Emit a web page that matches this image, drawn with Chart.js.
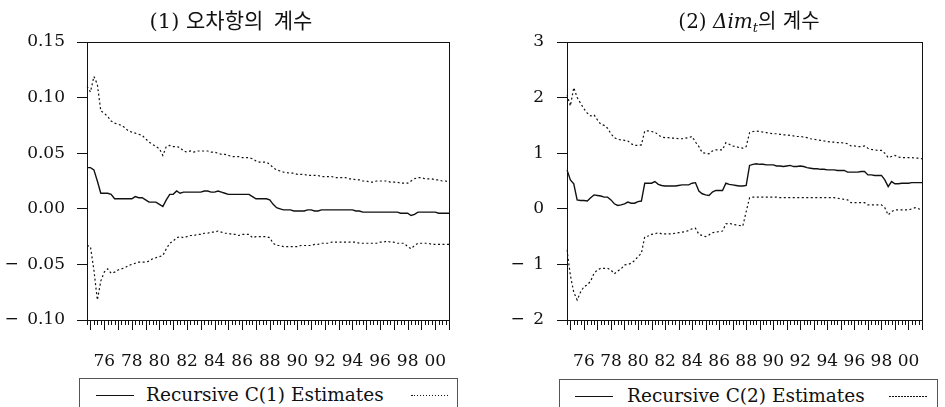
<!DOCTYPE html>
<html>
<head>
<meta charset="utf-8">
<script src="https://cdn.jsdelivr.net/npm/chart.js@4/dist/chart.umd.min.js"></script>
<style>
  html, body { margin: 0; padding: 0; background: #fff; }
  #wrap { position: relative; width: 945px; height: 407px; overflow: hidden; background: #fff;
          font-family: "DejaVu Serif", "Noto Sans CJK KR", serif; color: #111; }
  canvas { position: absolute; top: 0; }
  .title { position: absolute; top: 8px; font-size: 20px; line-height: 26px; text-align: center; white-space: nowrap; }
  .title i { font-style: italic; }
  .title sub { font-size: 13px; vertical-align: -4px; line-height: 0; }
  .legend { position: absolute; height: 60px; border: 1px solid #555; box-sizing: border-box; }
  .legend .solid { position: absolute; top: 16px; height: 0; border-top: 1.4px solid #111; }
  .legend .dots { position: absolute; top: 16px; height: 1px;
                  background: repeating-linear-gradient(to right, #111 0 1.5px, transparent 1.5px 3px); }
  .legend .txt { position: absolute; top: 6px; font-size: 18.5px; line-height: 20px; white-space: nowrap; }
</style>
</head>
<body>
<div id="wrap">
  <canvas id="c1" width="472" height="372" style="left:0"></canvas>
  <canvas id="c2" width="473" height="372" style="left:472px"></canvas>

  <div class="title" style="left:81px;width:300px;font-size:21px">(1) 오차항의&ensp;계수</div>
  <div class="title" style="left:600px;width:298px">(2) <i>Δim</i><sub><i>t</i></sub>의 계수</div>

  <div class="legend" style="left:79px;top:378px;width:379px">
    <div class="solid" style="left:16px;width:38px"></div>
    <div class="txt" style="left:66px">Recursive C(1) Estimates</div>
    <div class="dots" style="left:331px;width:37px"></div>
  </div>
  <div class="legend" style="left:559px;top:379px;width:379px">
    <div class="solid" style="left:15px;width:38px"></div>
    <div class="txt" style="left:67px">Recursive C(2) Estimates</div>
    <div class="dots" style="left:329px;width:39px"></div>
  </div>
</div>

<script>
// quarterly sample, first recursive estimate in 1974Q4
const startYear = 1974;
const startQuarter = 4;
const yearLabels = ['76', '78', '80', '82', '84', '86', '88', '90', '92', '94', '96', '98', '00'];

// (1) error-correction coefficient
const est1 = [
  0.037, 0.037, 0.035, 0.025, 0.014, 0.014, 0.014, 0.013, 0.009, 0.009,
  0.009, 0.009, 0.009, 0.009, 0.011, 0.010, 0.010, 0.008, 0.006, 0.006,
  0.006, 0.004, 0.002, 0.008, 0.013, 0.013, 0.016, 0.014, 0.015, 0.015,
  0.015, 0.015, 0.015, 0.015, 0.016, 0.016, 0.015, 0.015, 0.016, 0.015,
  0.014, 0.013, 0.013, 0.013, 0.013, 0.013, 0.013, 0.013, 0.011, 0.009,
  0.009, 0.009, 0.009, 0.008, 0.004, 0.001, 0.000, -0.001, -0.001, -0.001,
  -0.002, -0.002, -0.002, -0.002, -0.001, -0.001, -0.002, -0.002, -0.001, -0.001,
  -0.001, -0.001, -0.001, -0.001, -0.001, -0.001, -0.001, -0.001, -0.002, -0.002,
  -0.003, -0.003, -0.003, -0.003, -0.003, -0.003, -0.003, -0.003, -0.003, -0.003,
  -0.003, -0.004, -0.004, -0.004, -0.006, -0.005, -0.003, -0.003, -0.003, -0.003,
  -0.003, -0.003, -0.004, -0.004, -0.004, -0.004
];
const upper1 = [
  0.110, 0.105, 0.119, 0.112, 0.088, 0.086, 0.083, 0.079, 0.077, 0.076,
  0.075, 0.073, 0.070, 0.069, 0.068, 0.067, 0.066, 0.063, 0.060, 0.058,
  0.056, 0.054, 0.048, 0.056, 0.057, 0.056, 0.056, 0.055, 0.052, 0.051,
  0.052, 0.051, 0.052, 0.052, 0.052, 0.052, 0.051, 0.051, 0.050, 0.049,
  0.049, 0.048, 0.047, 0.047, 0.047, 0.046, 0.046, 0.046, 0.045, 0.043,
  0.042, 0.042, 0.042, 0.040, 0.037, 0.035, 0.034, 0.033, 0.0325, 0.032,
  0.032, 0.031, 0.031, 0.031, 0.030, 0.030, 0.030, 0.030, 0.029, 0.029,
  0.029, 0.029, 0.028, 0.028, 0.028, 0.028, 0.027, 0.027, 0.026, 0.026,
  0.025, 0.025, 0.024, 0.024, 0.025, 0.025, 0.025, 0.025, 0.024, 0.024,
  0.024, 0.023, 0.023, 0.023, 0.025, 0.027, 0.028, 0.028, 0.027, 0.027,
  0.027, 0.026, 0.026, 0.025, 0.025, 0.024
];
const lower1 = [
  -0.033, -0.034, -0.055, -0.082, -0.065, -0.057, -0.054, -0.058, -0.057, -0.055,
  -0.054, -0.053, -0.051, -0.050, -0.049, -0.048, -0.048, -0.048, -0.047, -0.045,
  -0.044, -0.043, -0.042, -0.036, -0.031, -0.029, -0.026, -0.025, -0.026, -0.025,
  -0.024, -0.024, -0.023, -0.023, -0.022, -0.022, -0.021, -0.021, -0.020, -0.021,
  -0.022, -0.022, -0.023, -0.023, -0.024, -0.023, -0.023, -0.023, -0.026, -0.025,
  -0.025, -0.025, -0.025, -0.026, -0.031, -0.033, -0.033, -0.034, -0.034, -0.034,
  -0.034, -0.034, -0.033, -0.033, -0.033, -0.033, -0.032, -0.032, -0.031, -0.031,
  -0.031, -0.030, -0.030, -0.030, -0.030, -0.030, -0.030, -0.030, -0.030, -0.031,
  -0.031, -0.031, -0.031, -0.031, -0.031, -0.030, -0.030, -0.029, -0.030, -0.030,
  -0.031, -0.031, -0.031, -0.034, -0.036, -0.033, -0.031, -0.031, -0.031, -0.031,
  -0.032, -0.032, -0.032, -0.032, -0.032, -0.032
];

// (2) coefficient on the import growth term
const est2 = [
  0.70, 0.52, 0.45, 0.16, 0.15, 0.15, 0.14, 0.20, 0.25, 0.24,
  0.23, 0.21, 0.21, 0.16, 0.09, 0.06, 0.07, 0.09, 0.12, 0.10,
  0.10, 0.13, 0.14, 0.46, 0.46, 0.46, 0.49, 0.44, 0.42, 0.41,
  0.41, 0.41, 0.41, 0.42, 0.43, 0.43, 0.43, 0.46, 0.47, 0.32,
  0.27, 0.25, 0.24, 0.30, 0.33, 0.33, 0.33, 0.46, 0.44, 0.43,
  0.42, 0.41, 0.41, 0.42, 0.78, 0.80, 0.81, 0.80, 0.80, 0.79,
  0.79, 0.79, 0.77, 0.77, 0.76, 0.77, 0.78, 0.76, 0.76, 0.77,
  0.76, 0.74, 0.73, 0.72, 0.72, 0.71, 0.71, 0.70, 0.70, 0.70,
  0.69, 0.69, 0.69, 0.66, 0.66, 0.66, 0.66, 0.67, 0.67, 0.61,
  0.61, 0.60, 0.60, 0.60, 0.52, 0.40, 0.49, 0.45, 0.45, 0.46,
  0.46, 0.46, 0.47, 0.47, 0.47, 0.47
];
const upper2 = [
  2.05, 1.85, 2.18, 2.00, 1.90, 1.80, 1.72, 1.67, 1.69, 1.60,
  1.52, 1.50, 1.45, 1.35, 1.28, 1.25, 1.24, 1.23, 1.22, 1.17,
  1.14, 1.14, 1.15, 1.40, 1.40, 1.39, 1.38, 1.33, 1.29, 1.28,
  1.28, 1.27, 1.27, 1.26, 1.26, 1.27, 1.28, 1.30, 1.20, 1.12,
  1.01, 1.00, 0.99, 1.04, 1.06, 1.06, 1.06, 1.19, 1.16, 1.13,
  1.12, 1.10, 1.09, 1.12, 1.37, 1.39, 1.40, 1.39, 1.38, 1.37,
  1.36, 1.35, 1.35, 1.34, 1.33, 1.33, 1.32, 1.31, 1.30, 1.30,
  1.29, 1.28, 1.26, 1.25, 1.24, 1.23, 1.22, 1.21, 1.20, 1.20,
  1.19, 1.19, 1.18, 1.17, 1.13, 1.13, 1.12, 1.12, 1.13, 1.09,
  1.07, 1.06, 1.05, 1.05, 1.00, 0.92, 0.94, 0.96, 0.93, 0.92,
  0.92, 0.92, 0.92, 0.91, 0.91, 0.90
];
const lower2 = [
  -0.74, -1.20, -1.50, -1.64, -1.50, -1.40, -1.37, -1.30, -1.16, -1.10,
  -1.07, -1.07, -1.07, -1.10, -1.17, -1.12, -1.08, -1.01, -1.00, -0.98,
  -0.93, -0.86, -0.80, -0.50, -0.49, -0.46, -0.45, -0.43, -0.45, -0.45,
  -0.45, -0.45, -0.44, -0.43, -0.42, -0.41, -0.39, -0.36, -0.35, -0.46,
  -0.48, -0.50, -0.47, -0.43, -0.42, -0.41, -0.40, -0.27, -0.26, -0.28,
  -0.29, -0.30, -0.31, -0.05, 0.20, 0.21, 0.21, 0.21, 0.21, 0.21,
  0.21, 0.21, 0.21, 0.20, 0.20, 0.20, 0.20, 0.20, 0.20, 0.20,
  0.20, 0.20, 0.20, 0.20, 0.20, 0.20, 0.20, 0.20, 0.20, 0.20,
  0.19, 0.18, 0.17, 0.16, 0.11, 0.11, 0.11, 0.11, 0.11, 0.07,
  0.07, 0.07, 0.07, 0.07, 0.02, -0.11, -0.05, -0.02, -0.02, -0.02,
  -0.02, -0.02, 0.00, 0.02, 0.00, -0.02
];

const yValues1 = [-0.10, -0.05, 0.00, 0.05, 0.10, 0.15];
const yLabels1 = ['\u2212\u20020.10', '\u2212\u20020.05', '0.00', '0.05', '0.10', '0.15'];
const yValues2 = [-2, -1, 0, 1, 2, 3];
const yLabels2 = ['\u2212\u20022', '\u2212\u20021', '0', '1', '2', '3'];

// quarter labels for the category axis
const periods = est1.map((_, i) => {
  const k = startQuarter - 1 + i;
  return (startYear + Math.floor(k / 4)) + 'Q' + (k % 4 + 1);
});

const serif = 'DejaVu Serif';
const ink = '#111';

// plot frame plus quarterly / yearly tick marks under the x axis
const framePlugin = {
  id: 'frame',
  afterDraw(chart) {
    const { ctx, chartArea: a, scales } = chart;
    const xs = scales.x;
    ctx.save();
    ctx.strokeStyle = ink;
    ctx.lineWidth = 1;
    ctx.strokeRect(Math.round(a.left) + 0.5, Math.round(a.top) + 0.5,
                   Math.round(a.right - a.left), Math.round(a.bottom - a.top));
    ctx.beginPath();
    periods.forEach((p, i) => {
      const x = Math.round(xs.getPixelForValue(i)) + 0.5;
      const len = p.endsWith('Q1') ? 10 : 5;
      ctx.moveTo(x, a.bottom);
      ctx.lineTo(x, a.bottom + len);
    });
    ctx.stroke();
    ctx.restore();
  }
};

function makeChart(id, series, yMin, yMax, yValues, yLabels, yWidth, rightPad, labelPad) {
  return new Chart(document.getElementById(id), {
    type: 'line',
    data: {
      labels: periods,
      datasets: [
        { data: series[0], borderColor: ink, borderWidth: 1.4 },
        { data: series[1], borderColor: ink, borderWidth: 1.2, borderDash: [2, 2.5] },
        { data: series[2], borderColor: ink, borderWidth: 1.2, borderDash: [2, 2.5] }
      ]
    },
    options: {
      responsive: false,
      animation: false,
      events: [],
      layout: { padding: { top: 42, right: rightPad, left: 0, bottom: 0 } },
      elements: { point: { radius: 0 }, line: { tension: 0 } },
      plugins: { legend: { display: false }, tooltip: { enabled: false } },
      scales: {
        x: {
          type: 'category',
          grid: { display: false },
          border: { display: false },
          afterFit: (s) => { s.height = 52; },
          ticks: {
            autoSkip: false,
            maxRotation: 0,
            padding: 23,
            color: ink,
            font: { family: serif, size: 17 },
            callback: (v, i) => {
              const p = periods[i];
              const yy = p.slice(2, 4);
              return p.endsWith('Q1') && yearLabels.includes(yy) ? yy : '';
            }
          }
        },
        y: {
          min: yMin,
          max: yMax,
          afterFit: (s) => { s.width = yWidth; },
          afterBuildTicks: (s) => { s.ticks = yValues.map(v => ({ value: v })); },
          grid: { drawOnChartArea: false, drawTicks: true, tickLength: 10, color: ink },
          border: { display: false },
          ticks: {
            padding: labelPad,
            color: ink,
            font: { family: serif, size: 17 },
            callback: (v, i) => yLabels[i]
          }
        }
      }
    },
    plugins: [framePlugin]
  });
}

makeChart('c1', [est1, upper1, lower1], -0.10, 0.15, yValues1, yLabels1, 87, 15, 12);
makeChart('c2', [est2, upper2, lower2], -2, 3, yValues2, yLabels2, 95, 8, 13);
</script>
</body>
</html>
